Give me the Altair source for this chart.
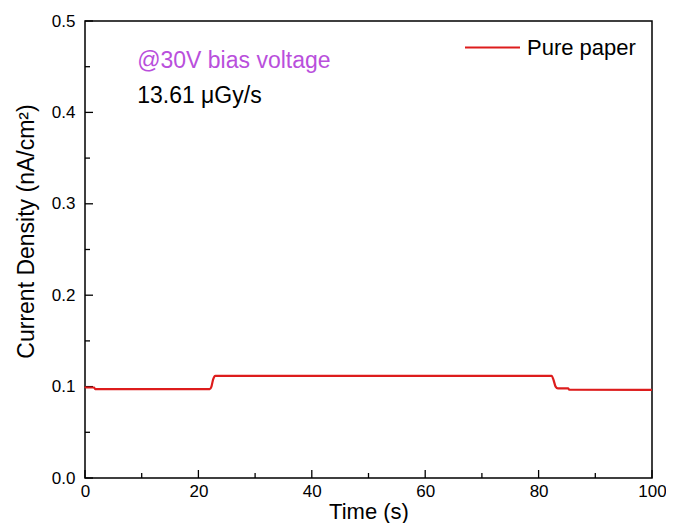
import altair as alt
import pandas as pd

# ---- data ----
time_s = [0.0, 0.2, 1.6, 1.8, 22.0, 22.3, 22.6, 23.0, 82.3, 82.6, 83.0, 83.4, 85.2, 85.4, 100.0]
current = [0.1000, 0.0990, 0.0990, 0.0972, 0.0972, 0.1000, 0.1080, 0.1118, 0.1118, 0.1080, 0.1000, 0.0981, 0.0981, 0.0966, 0.0964]
series_name = "Pure paper"

x_major = [0, 20, 40, 60, 80, 100]
x_minor = [10, 30, 50, 70, 90]
y_major = [0.0, 0.1, 0.2, 0.3, 0.4, 0.5]
y_minor = [0.05, 0.15, 0.25, 0.35, 0.45]

note_text = ["@30V bias voltage", "13.61 \u03bcGy/s"]
note_t = [9.2, 9.2]
note_j = [0.449, 0.410]

# ---- styling ----
W, H = 567, 457
FONT = "Liberation Sans"
RED = "#dd1c1c"
PURPLE = "#b94fdc"

df = pd.DataFrame({"t": time_s, "j": current, "series": [series_name] * len(time_s)})

xs = alt.Scale(domain=[0, 100], nice=False, zero=False)
ys = alt.Scale(domain=[0, 0.5], nice=False, zero=False)

xa = alt.Axis(title="Time (s)", values=x_major, format="d", ticks=False, domain=False, grid=False,
              labelFont=FONT, labelFontSize=17, labelColor="black", labelPadding=5,
              labelFlush=False, labelOverlap=False,
              titleFont=FONT, titleFontSize=22, titleFontWeight="normal", titleColor="black",
              titleY=40, titleBaseline="alphabetic")
ya = alt.Axis(title="Current Density (nA/cm\u00b2)", values=y_major, format=".1f", ticks=False, domain=False,
              grid=False, labelFont=FONT, labelFontSize=17, labelColor="black", labelPadding=10,
              labelOverlap=False,
              titleFont=FONT, titleFontSize=23, titleFontWeight="normal", titleColor="black",
              titleX=-52, titleY=210, titleAngle=-90, titleAlign="center", titleBaseline="alphabetic")

X = alt.X("t:Q", scale=xs, axis=xa)
Y = alt.Y("j:Q", scale=ys, axis=ya)

line = alt.Chart(df).mark_line(strokeWidth=2.2, interpolate="monotone").encode(
    x=X, y=Y,
    color=alt.Color("series:N", scale=alt.Scale(domain=[series_name], range=[RED]),
                    legend=alt.Legend(orient="none", legendX=379, legendY=-2, title=None,
                                      symbolType="stroke", symbolSize=3025, symbolStrokeWidth=2,
                                      labelFont=FONT, labelFontSize=22, labelColor="black",
                                      labelOffset=6, padding=0))
)

def xticks(vals, length):
    return alt.Chart(pd.DataFrame({"t": vals})).mark_rule(color="black", strokeWidth=1.3).encode(
        x=X, y=alt.value(H), y2=alt.value(H - length))

def yticks(vals, length):
    return alt.Chart(pd.DataFrame({"j": vals})).mark_rule(color="black", strokeWidth=1.3).encode(
        y=Y, x=alt.value(0), x2=alt.value(length))

notes_df = pd.DataFrame({"t": note_t, "j": note_j, "txt": note_text})
note1 = alt.Chart(notes_df.iloc[[0]]).mark_text(align="left", baseline="alphabetic", font=FONT,
                                                 fontSize=23, color=PURPLE).encode(x=X, y=Y, text="txt:N")
note2 = alt.Chart(notes_df.iloc[[1]]).mark_text(align="left", baseline="alphabetic", font=FONT,
                                                 fontSize=23, color="black").encode(x=X, y=Y, text="txt:N")

chart = alt.layer(
    xticks(x_major, 8), xticks(x_minor, 5), yticks(y_major, 8), yticks(y_minor, 5),
    line, note1, note2
).properties(
    width=W, height=H,
    autosize=alt.AutoSizeParams(type="none"),
    padding={"left": 77, "top": 13, "right": 14, "bottom": 45},
    background="white"
).configure_view(stroke="black", strokeWidth=1.5)

chart.save("out.html", embed_options={"renderer": "svg", "actions": False})
